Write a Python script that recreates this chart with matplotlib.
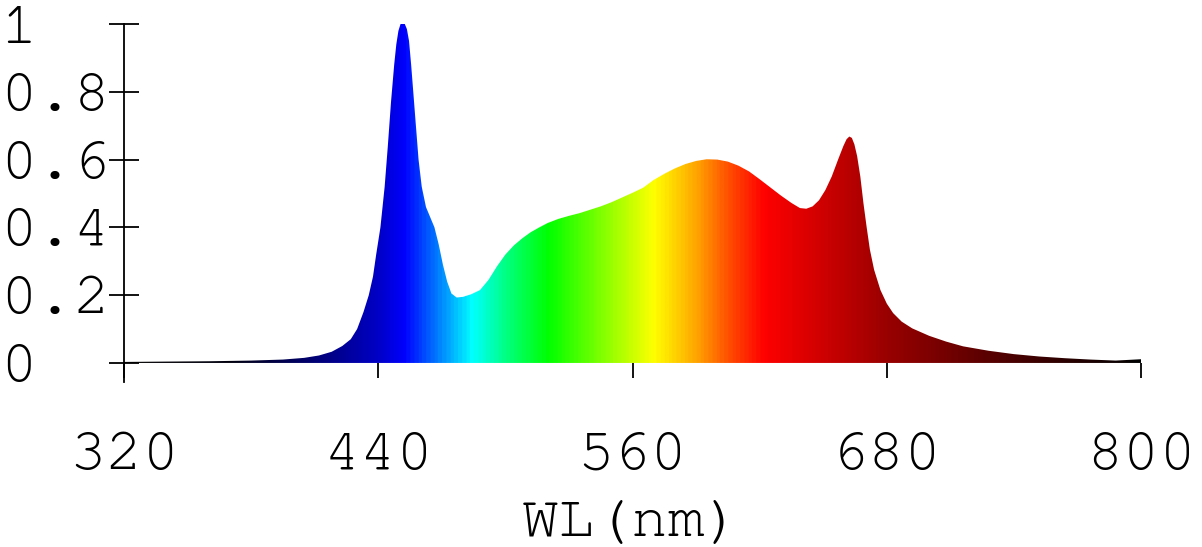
import numpy as np
import matplotlib.pyplot as plt
from matplotlib.colors import LinearSegmentedColormap
from matplotlib.patches import Polygon

# spectrum (wavelength nm, relative intensity)
wl = [320, 340, 360, 380, 395, 405, 412, 418, 423, 427, 430, 433, 435.5, 437.5,
      439, 441, 443, 444.5, 446, 447.5, 448.5, 449.5, 450.5, 451.5, 452.5,
      453.5, 454.5, 455.5, 456.5, 457.5,
      459, 460.5, 462.5, 464.5, 466.5, 468.5, 470.5, 472.5, 474.5, 477, 480,
      484, 488, 492, 496, 500, 504, 508, 512, 516, 520, 525, 530, 535, 540,
      545, 550, 555, 560, 565, 570, 575, 580, 585, 590, 595, 600, 605, 610,
      615, 620, 625, 630, 635, 639, 642, 645, 648, 651, 654, 657, 659.5,
      661, 662.3, 663.5, 664.7, 666, 667.5, 669, 670.5, 672, 674, 677, 680, 683,
      687, 692, 700, 708, 716, 728, 740, 752, 764, 776, 788, 800]
intensity = [0.003, 0.004, 0.005, 0.007, 0.010, 0.015, 0.022, 0.033, 0.050,
             0.070, 0.100, 0.150, 0.200, 0.255, 0.32, 0.40, 0.52, 0.64, 0.77,
             0.88, 0.94, 0.98, 1.0, 1.007, 1.0, 0.985, 0.95, 0.88, 0.80, 0.72,
             0.60, 0.52, 0.46,
             0.43, 0.40, 0.35, 0.29, 0.24, 0.205, 0.193, 0.195, 0.203, 0.215,
             0.245, 0.285, 0.32, 0.347, 0.368, 0.386, 0.40, 0.413, 0.425,
             0.434, 0.442, 0.452, 0.462, 0.474, 0.488, 0.502, 0.517, 0.54,
             0.558, 0.574, 0.587, 0.596, 0.601, 0.600, 0.594, 0.582, 0.565,
             0.542, 0.518, 0.494, 0.472, 0.457, 0.455, 0.462, 0.48, 0.51,
             0.55, 0.60, 0.64, 0.66, 0.668, 0.664, 0.645, 0.61, 0.55, 0.47, 0.40,
             0.335, 0.275, 0.215, 0.175, 0.147, 0.122, 0.102, 0.080, 0.063,
             0.049, 0.036, 0.026, 0.019, 0.014, 0.010, 0.007, 0.011]

# colour of the fill along the wavelength axis
stop_nm = [320, 370, 420, 440, 452, 468, 484, 500, 520, 545, 570, 590, 605,
           622, 680, 740, 800]
stop_colors = ['#000000', '#000010', '#000090', '#0000c8', '#0000ff', '#0080ff',
               '#00ffff', '#00ff80', '#00ff00', '#80ff00', '#ffff00', '#ffa500',
               '#ff5000', '#ff0000', '#990000', '#4a0000', '#000000']

xticks = [320, 440, 560, 680, 800]
yticks = [0, 0.2, 0.4, 0.6, 0.8, 1]
ytick_labels = ["0", "0.2", "0.4", "0.6", "0.8", "1"]

plt.rcParams['font.family'] = ['Nimbus Mono PS', 'FreeMono', 'Courier New',
                               'Liberation Mono', 'DejaVu Sans Mono']

fig = plt.figure(figsize=(12.02, 5.47), dpi=100)
ax = fig.add_axes([0.1032, 0.3024, 0.9493 - 0.1032, 0.9561 - 0.3024])

pos = [(n - stop_nm[0]) / (stop_nm[-1] - stop_nm[0]) for n in stop_nm]
cmap = LinearSegmentedColormap.from_list("spec", list(zip(pos, stop_colors)))
grad = np.linspace(stop_nm[0], stop_nm[-1], 960).reshape(1, -1)
im = ax.imshow(grad, cmap=cmap, extent=[320, 800, 0, 1.02], aspect='auto',
               origin='lower', interpolation='bilinear', zorder=2)

verts = list(zip(wl, intensity)) + [(wl[-1], 0), (wl[0], 0)]
poly = Polygon(verts, closed=True, facecolor='none', edgecolor='none',
               transform=ax.transData)
ax.add_patch(poly)
im.set_clip_path(poly)

ax.set_xlim(320, 800)
ax.set_ylim(-0.055, 1.0)

ax.spines['top'].set_visible(False)
ax.spines['right'].set_visible(False)
ax.spines['bottom'].set_position(('data', 0))
ax.spines['bottom'].set_visible(False)
ax.spines['left'].set_linewidth(1.3)

ax.set_xticks(xticks)
ax.set_xticklabels([str(v) for v in xticks], fontsize=44)
ax.set_yticks(yticks)
ax.set_yticklabels(ytick_labels, fontsize=44, ha='left')

ax.tick_params(axis='x', direction='out', length=10.8, width=1.3, pad=39.5)
ax.tick_params(axis='y', direction='inout', length=21.6, width=1.3, pad=78.5)

ax.set_xlabel("WL(nm)", fontsize=44)
ax.xaxis.set_label_coords(0.499, -0.33)

fig.savefig("out.png", dpi=100)
